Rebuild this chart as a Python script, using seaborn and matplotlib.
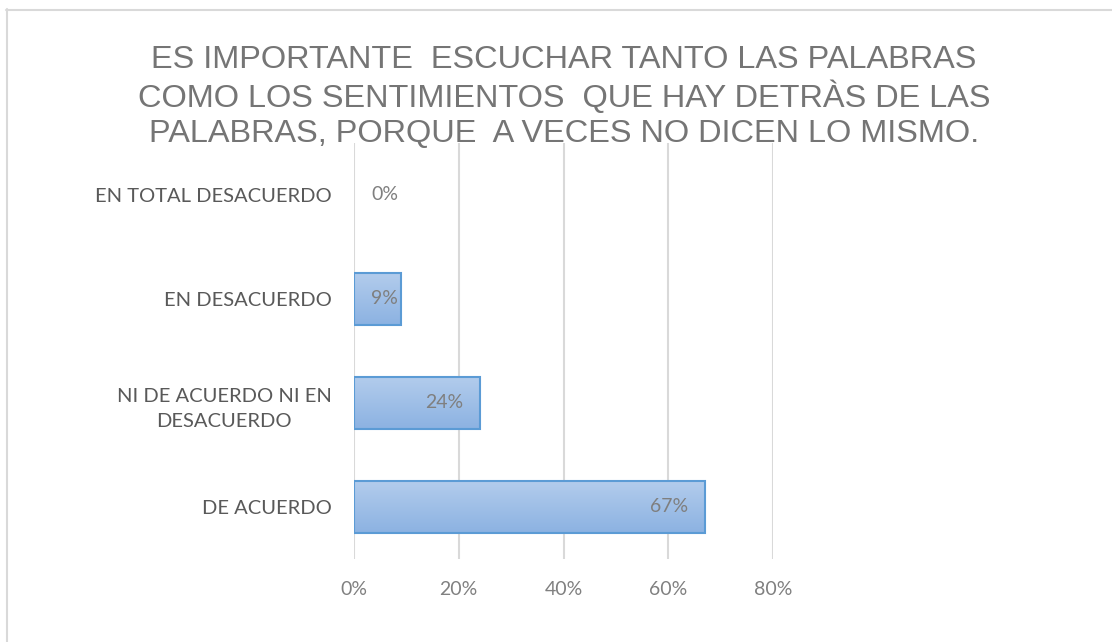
import numpy as np
import pandas as pd
import matplotlib
matplotlib.use("Agg")
import matplotlib.pyplot as plt
from matplotlib.lines import Line2D
import seaborn as sns

# chart data (top to bottom)
categories = ["EN TOTAL DESACUERDO", "EN DESACUERDO", "NI DE ACUERDO NI EN\nDESACUERDO", "DE ACUERDO"]
values = [0, 9, 24, 67]
x_ticks = [0, 20, 40, 60, 80]
title = ("ES IMPORTANTE  ESCUCHAR TANTO LAS PALABRAS\n"
         "COMO LOS SENTIMIENTOS  QUE HAY DETRÀS DE LAS\n"
         "PALABRAS, PORQUE  A VECES NO DICEN LO MISMO.")

df = pd.DataFrame({"cat": categories, "val": values})

sns.set_style("white")
plt.rcParams["font.family"] = ["Lato", "DejaVu Sans"]

W, H = 1112, 642
fig = plt.figure(figsize=(W / 100, H / 100), dpi=100)
ax = fig.add_axes([354 / W, 1 - 559 / H, 419 / W, 416 / H])

sns.barplot(data=df, y="cat", x="val", orient="h", ax=ax, width=0.5,
            color="#a2c0e8", edgecolor="#5b9bd5", linewidth=1.5, saturation=1, zorder=3)

# vertical gradient inside each bar
grad = np.linspace(0, 1, 64).reshape(-1, 1)
cmap = matplotlib.colors.LinearSegmentedColormap.from_list("g", ["#b2ccec", "#8cb2e2"])
for p in ax.patches:
    w = p.get_width()
    if w <= 0:
        p.set_visible(False)
        continue
    y0 = p.get_y()
    h = p.get_height()
    im = ax.imshow(grad, cmap=cmap, aspect="auto", extent=[0, w, y0 + h, y0],
                   zorder=3.5, interpolation="bilinear")
    im.set_clip_path(p)
    p.set_facecolor("none")
    p.set_zorder(4)

ax.set_xlim(0, 80)
ax.set_ylim(3.5, -0.5)
ax.set_xticks(x_ticks)
ax.set_xticklabels([f"{t}%" for t in x_ticks])
ax.xaxis.grid(True, color="#d9d9d9", linewidth=1.5, zorder=0)
for s in ax.spines.values():
    s.set_visible(False)
ax.tick_params(axis="x", length=0, pad=16, labelsize=14, labelcolor="#808080")
ax.tick_params(axis="y", length=0, pad=16, labelsize=14.5, labelcolor="#595959")
for lab in ax.get_yticklabels():
    lab.set_multialignment("center")
    lab.set_linespacing(1.6)
ax.set_xlabel("")
ax.set_ylabel("")

# data labels, inside end
for i, v in enumerate(values):
    xr = max(v - 3.2, 8.4)
    ax.text(xr, i, f"{v}%", ha="right", va="center", fontsize=14,
            color="#7f7f7f", zorder=6)

fig.text(564 / W, 1 - 97 / H, title, ha="center", va="center", fontsize=23.4,
         color="#757575", linespacing=1.22,
         family=["Liberation Sans", "DejaVu Sans"])

# chart frame (only top/left visible in the crop)
fig.add_artist(Line2D([6.5 / W, 6.5 / W], [0, 1 - 9 / H], color="#d9d9d9", lw=1.5))
fig.add_artist(Line2D([6 / W, 1], [1 - 9.5 / H, 1 - 9.5 / H], color="#d9d9d9", lw=1.5))

fig.savefig("out.png", dpi=100)
